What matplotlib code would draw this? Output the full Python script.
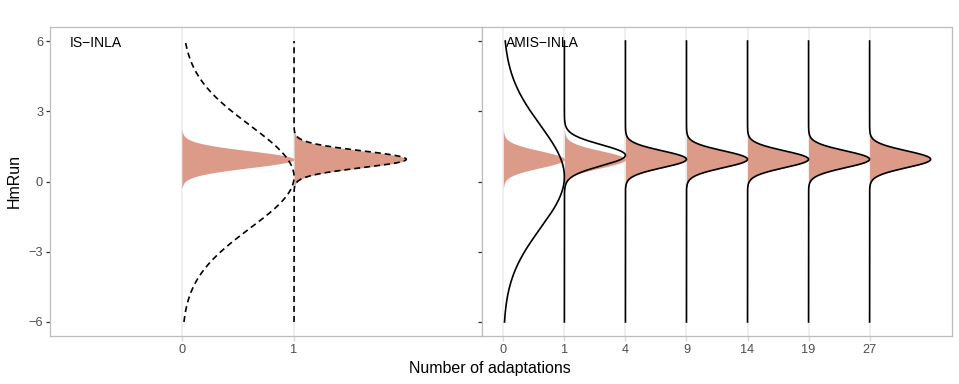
import numpy as np
import matplotlib
matplotlib.use("Agg")
import matplotlib.pyplot as plt

plt.rcParams['font.family'] = ['Liberation Sans', 'DejaVu Sans']

# ---------------- data ----------------
is_labels = ["0", "1"]
amis_labels = ["0", "1", "4", "9", "14", "19", "27"]

# target (reference posterior) density, drawn as the filled half-violin
target_mean = 0.95
target_sd = 0.36
target_ymin = -0.25
target_ymax = 2.2

# proposal densities (normal parameters) at each adaptation
is_prop_mean = [0.2, 0.95]
is_prop_sd = [2.2, 0.36]
amis_prop_mean = [0.2, 1.12, 0.95, 0.95, 0.95, 0.95, 0.95]
amis_prop_sd = [2.2, 0.45, 0.36, 0.36, 0.36, 0.36, 0.36]

prop_ymin, prop_ymax = -6, 6
y_ticks = [-6, -3, 0, 3, 6]

FILL = "#DB9B88"
GRID = "#EBEBEB"
BORDER = "#BDBDBD"


def npdf(y, m, s):
    return np.exp(-0.5 * ((y - m) / s) ** 2)


W, H = 959, 384
fig = plt.figure(figsize=(W / 100, H / 100), dpi=100)
ax1 = fig.add_axes([50 / W, 1 - 336 / H, 432 / W, 309 / H])
ax2 = fig.add_axes([482 / W, 1 - 336 / H, 470 / W, 309 / H])

yt = np.linspace(target_ymin, target_ymax, 400)
yp = np.linspace(prop_ymin, prop_ymax, 800)


def draw(ax, labels, means, sds, ls):
    for i in range(len(labels)):
        ax.axvline(i, color=GRID, lw=1.1, zorder=0)
    for i in range(len(labels)):
        f = npdf(yt, target_mean, target_sd)
        ax.fill_betweenx(yt, i, i + f / f.max(), color=FILL, lw=0, zorder=1)
    for i, (m, s) in enumerate(zip(means, sds)):
        g = npdf(yp, m, s)
        ax.plot(i + g / g.max(), yp, color="black", lw=1.2, ls=ls, zorder=2)
    ax.set_xticks(range(len(labels)))
    ax.set_xticklabels(labels)
    ax.set_yticks(y_ticks)
    ax.set_ylim(-6.6, 6.6)
    for sp in ax.spines.values():
        sp.set_color(BORDER)
        sp.set_linewidth(0.9)
    ax.tick_params(axis='y', length=3, width=0.9, color="#333333",
                   labelcolor="#4D4D4D", labelsize=9.2, pad=2)
    ax.tick_params(axis='x', length=3.5, width=1.0, color="#D9D9D9",
                   labelcolor="#4D4D4D", labelsize=9.2, pad=2)


draw(ax1, is_labels, is_prop_mean, is_prop_sd, (0, (3.6, 2.4)))
draw(ax2, amis_labels, amis_prop_mean, amis_prop_sd, "-")

ax1.set_xlim(-1.175, 2.675)
ax2.set_xlim(-0.35, 7.35)
ax2.tick_params(axis='y', labelleft=False)

ax1.text(-1, 6, "IS\u2212INLA", ha="left", va="center_baseline", fontsize=10, color="black")
ax2.text(0.04, 6, "AMIS\u2212INLA", ha="left", va="center_baseline", fontsize=10, color="black", zorder=5)

fig.text(14 / W, 1 - 181 / H, "HmRun", rotation=90, ha="center", va="center", fontsize=11.5)
fig.text(490 / W, 1 - 368 / H, "Number of adaptations", ha="center", va="center", fontsize=11.5)

fig.savefig("out.png", dpi=100)
